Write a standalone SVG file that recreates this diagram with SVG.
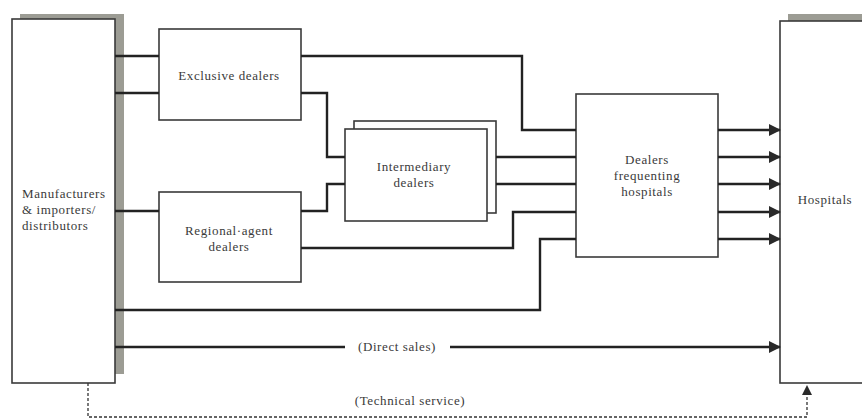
<svg xmlns="http://www.w3.org/2000/svg" width="862" height="419" viewBox="0 0 862 419">
<style>
.box{fill:#fff;stroke:#3a3a3a;stroke-width:1.6}
.shadow{fill:#9c9c94}
.t{font-family:"Liberation Serif","DejaVu Serif",serif;font-size:13px;letter-spacing:0.6px;fill:#3a3a3a}
.c{fill:none;stroke:#222;stroke-width:2.4}
.d{fill:none;stroke:#333;stroke-width:1.3;stroke-dasharray:3,2}
</style>
<defs>
<marker id="ah" markerWidth="12" markerHeight="12" refX="11" refY="6" orient="auto" markerUnits="userSpaceOnUse">
<path d="M0,0 L12,6 L0,12 Z" fill="#2a2a2a"/>
</marker>
<marker id="ahs" markerWidth="10" markerHeight="10" refX="9" refY="5" orient="auto" markerUnits="userSpaceOnUse">
<path d="M0,0 L10,5 L0,10 Z" fill="#2a2a2a"/>
</marker>
</defs>
<rect width="862" height="419" fill="#fff"/>

<g id="manufacturers">
<rect class="shadow" x="20" y="14" width="104" height="360"/>
<rect class="box" x="12" y="19" width="103" height="364"/>
<text class="t" x="22" y="198">Manufacturers</text>
<text class="t" x="22" y="214">&amp; importers/</text>
<text class="t" x="22" y="230">distributors</text>
</g>

<g id="exclusive">
<rect class="box" x="159" y="29" width="142" height="91"/>
<text class="t" x="229" y="80" text-anchor="middle">Exclusive dealers</text>
</g>

<g id="regional">
<rect class="box" x="159" y="192" width="142" height="90"/>
<text class="t" x="229" y="235" text-anchor="middle">Regional·agent</text>
<text class="t" x="229" y="251" text-anchor="middle">dealers</text>
</g>

<g id="intermediary">
<rect class="box" x="354" y="121" width="142" height="92"/>
<rect class="box" x="345" y="129" width="142" height="92"/>
<text class="t" x="414" y="171" text-anchor="middle">Intermediary</text>
<text class="t" x="414" y="187" text-anchor="middle">dealers</text>
</g>

<g id="frequenting">
<rect class="box" x="576" y="94" width="142" height="163"/>
<text class="t" x="647" y="164" text-anchor="middle">Dealers</text>
<text class="t" x="647" y="180" text-anchor="middle">frequenting</text>
<text class="t" x="647" y="196" text-anchor="middle">hospitals</text>
</g>

<g id="hospitals">
<rect class="shadow" x="788" y="14" width="80" height="10"/>
<rect class="box" x="780" y="21" width="90" height="362"/>
<text class="t" x="825" y="204" text-anchor="middle">Hospitals</text>
</g>

<g id="connectors">
<path class="c" d="M115,56 H159"/>
<path class="c" d="M115,93 H159"/>
<path class="c" d="M115,211 H159"/>
<path class="c" d="M301,56 H522 V130 H576"/>
<path class="c" d="M301,93 H327 V157 H345"/>
<path class="c" d="M301,211 H327 V184 H345"/>
<path class="c" d="M496,157 H576"/>
<path class="c" d="M496,184 H576"/>
<path class="c" d="M301,248 H513 V212 H576"/>
<path class="c" d="M115,310 H540 V239 H576"/>
<path class="c" d="M718,130 H780" marker-end="url(#ah)"/>
<path class="c" d="M718,157 H780" marker-end="url(#ah)"/>
<path class="c" d="M718,184 H780" marker-end="url(#ah)"/>
<path class="c" d="M718,212 H780" marker-end="url(#ah)"/>
<path class="c" d="M718,239 H780" marker-end="url(#ah)"/>
<path class="c" d="M115,347 H345"/>
<path class="c" d="M450,347 H780" marker-end="url(#ah)"/>
<text class="t" x="397" y="351" text-anchor="middle">(Direct sales)</text>
<path class="d" d="M88,383 V417 H807 V386" marker-end="url(#ahs)"/>
<text class="t" x="410" y="405" text-anchor="middle">(Technical service)</text>
</g>
</svg>
